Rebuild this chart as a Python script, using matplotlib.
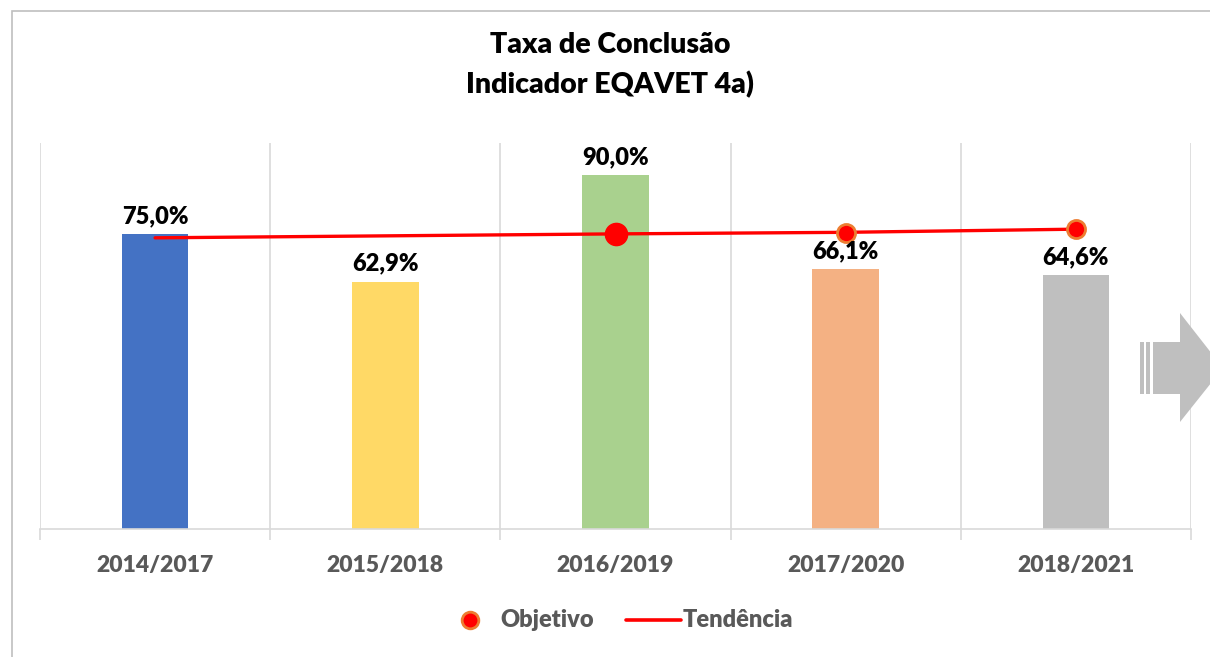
import numpy as np
import matplotlib.pyplot as plt
from matplotlib.patches import Polygon, Rectangle
from matplotlib.lines import Line2D

plt.rcParams['font.family'] = ['Lato', 'DejaVu Sans']

# data
categories = ['2014/2017', '2015/2018', '2016/2019', '2017/2020', '2018/2021']
taxa = [75.0, 62.9, 90.0, 66.1, 64.6]
tendencia = [74.0, 74.5, 75.0, 75.4, 76.2]
objetivo = [None, None, 75.0, 75.3, 76.2]
bar_colors = ['#4472C4', '#FFD966', '#A9D18E', '#F4B183', '#BFBFBF']

W, H = 1210, 657
fig = plt.figure(figsize=(W / 100, H / 100), dpi=100)

def fx(px):
    return px / W

def fy(py):
    return 1 - py / H

WEIGHT = 'heavy'

# plot area
ax = fig.add_axes([fx(40), fy(529), fx(1191) - fx(40), fy(143) - fy(529)])
x = np.arange(len(categories))
ax.bar(x, taxa, width=0.29, color=bar_colors, zorder=2)
ax.set_xlim(-0.5, len(categories) - 0.5)
ax.set_ylim(0, 98.1)

for xi, v in zip(x, taxa):
    ax.annotate(f'{v:.1f}%'.replace('.', ','), (xi, v), xytext=(0, 5),
                textcoords='offset points', ha='center', va='bottom',
                fontsize=17, fontweight=WEIGHT, color='black', zorder=5)

# trend line and objective markers
ax.plot(x, tendencia, color='#FF0000', lw=2.4, zorder=3, solid_capstyle='round')
ax.plot(x[2], objetivo[2], 'o', ms=16, color='#FF0000', zorder=4)
ax.plot(x[3:], objetivo[3:], 'o', ms=13, markerfacecolor='#FF0000',
        markeredgecolor='#ED7D31', markeredgewidth=2, zorder=4, ls='none')

# grid / axes styling
for b in np.arange(-0.5, len(categories), 1.0):
    ax.axvline(b, color='#D9D9D9', lw=1.2, zorder=1)
for s in ['top', 'right', 'left']:
    ax.spines[s].set_visible(False)
ax.spines['bottom'].set_color('#D9D9D9')
ax.spines['bottom'].set_linewidth(1.2)
ax.set_yticks([])
ax.set_xticks(x)
ax.set_xticklabels(categories, fontsize=16.5, fontweight=WEIGHT, color='#595959')
ax.tick_params(axis='x', length=0, pad=19)
ax.set_xticks(np.arange(-0.5, len(categories), 1.0), minor=True)
ax.tick_params(axis='x', which='minor', length=8, color='#D9D9D9', width=1.2)

# title
fig.text(fx(610), fy(45), 'Taxa de Conclusão', ha='center', va='center',
         fontsize=20.5, fontweight=WEIGHT)
fig.text(fx(610), fy(85), 'Indicador EQAVET 4a)', ha='center', va='center',
         fontsize=20.5, fontweight=WEIGHT)

# legend (placed by hand)
fig.add_artist(Line2D([fx(470)], [fy(620)], marker='o', ls='none', ms=12,
                      markerfacecolor='#FF0000', markeredgecolor='#ED7D31',
                      markeredgewidth=2, transform=fig.transFigure))
fig.text(fx(500), fy(620), 'Objetivo', ha='left', va='center', fontsize=17,
         fontweight=WEIGHT, color='#595959')
fig.add_artist(Line2D([fx(626), fx(681)], [fy(620), fy(620)], color='#FF0000',
                      lw=2.6, solid_capstyle='round', transform=fig.transFigure))
fig.text(fx(683), fy(620), 'Tendência', ha='left', va='center', fontsize=17,
         fontweight=WEIGHT, color='#595959')

# chart border
fig.patches.append(Rectangle((fx(12), fy(700)), fx(1250), fy(11) - fy(700),
                             transform=fig.transFigure, fill=False,
                             edgecolor='#BFBFBF', lw=1.2))

# decorative arrow
gray = '#BFBFBF'
arrow_pts = [(1153, 342), (1180, 342), (1180, 313), (1223, 368),
             (1180, 422), (1180, 394), (1153, 394)]
fig.patches.append(Polygon([(fx(a), fy(b)) for a, b in arrow_pts], closed=True,
                           transform=fig.transFigure, facecolor=gray, edgecolor='none'))
for sx in (1140, 1146):
    fig.patches.append(Rectangle((fx(sx), fy(394)), fx(4), fy(342) - fy(394),
                                 transform=fig.transFigure, facecolor=gray, edgecolor='none'))

fig.savefig('out.png', dpi=100)
